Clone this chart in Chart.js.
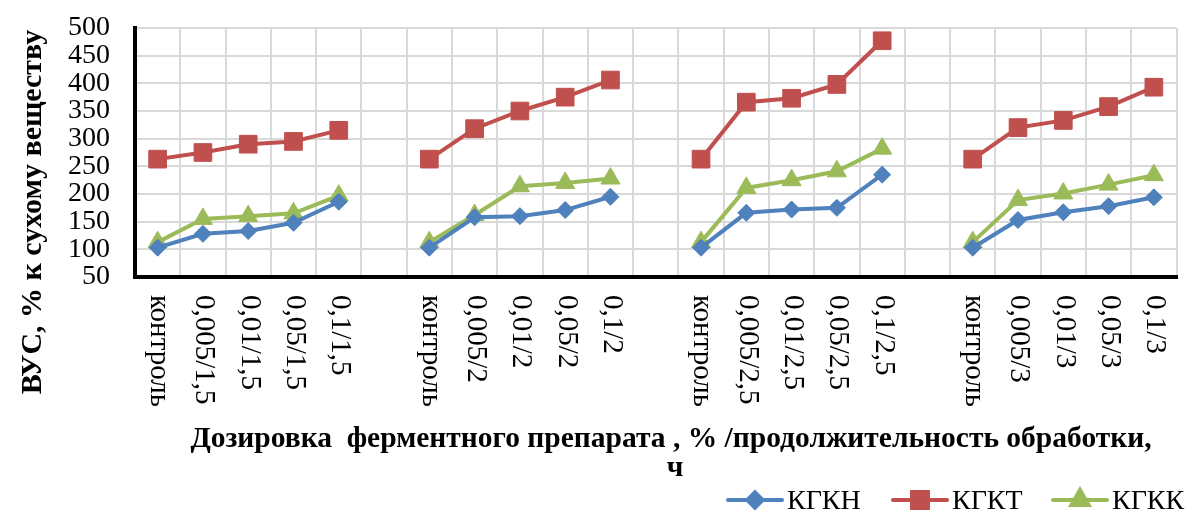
<!DOCTYPE html>
<html>
<head>
<meta charset="utf-8">
<script src="https://cdn.jsdelivr.net/npm/chart.js@4/dist/chart.umd.min.js"></script>
<style>
  html, body { margin: 0; padding: 0; background: #fff; }
  #wrap { width: 1190px; height: 513px; }
</style>
</head>
<body>
<div id="wrap"><canvas id="vusChart" width="1190" height="513"></canvas></div>
<script>
// подписи категорий (пустые - промежутки между группами)
const labels = [
    'контроль', '0,005/1,5', '0,01/1,5', '0,05/1,5', '0,1/1,5', '',
    'контроль', '0,005/2', '0,01/2', '0,05/2', '0,1/2', '',
    'контроль', '0,005/2,5', '0,01/2,5', '0,05/2,5', '0,1/2,5', '',
    'контроль', '0,005/3', '0,01/3', '0,05/3', '0,1/3'
];

const kgkn = [103, 128, 133, 148, 186, null, 103, 158, 160, 171, 195, null, 103, 166, 172, 175, 235, null, 103, 153, 167, 178, 194];
const kgkt = [263, 275, 290, 295, 315, null, 263, 318, 350, 375, 406, null, 263, 366, 373, 398, 477, null, 263, 320, 333, 358, 393];
const kgkk = [113, 155, 160, 165, 197, null, 113, 162, 214, 220, 228, null, 113, 211, 225, 241, 282, null, 113, 189, 201, 217, 234];

const yTicks = [50, 100, 150, 200, 250, 300, 350, 400, 450, 500];

const yTitle = 'ВУС, % к сухому веществу';
const xTitle = ['Дозировка  ферментного препарата , % /продолжительность обработки,', 'ч'];

const FONT = '"Liberation Serif", "Times New Roman", serif';

const series = [
    { label: 'КГКН', data: kgkn, color: '#4F81BD', style: 'rectRot', radius: 8.5 },
    { label: 'КГКТ', data: kgkt, color: '#C0504D', style: 'rect', radius: 12.5 },
    { label: 'КГКК', data: kgkk, color: '#9BBB59', style: 'triangle', radius: 11 }
];

// подписи, заголовки осей и легенда
const textPlugin = {
    id: 'texts',
    afterDraw(chart) {
        const ctx = chart.ctx;
        const x = chart.scales.x;
        ctx.save();
        ctx.fillStyle = '#000';

        // подписи категорий, повернутые на 90°
        ctx.font = '29px ' + FONT;
        ctx.textAlign = 'left';
        ctx.textBaseline = 'middle';
        labels.forEach((lab, i) => {
            if (!lab) return;
            ctx.save();
            ctx.translate(x.getPixelForValue(i) + 1, 295);
            ctx.rotate(Math.PI / 2);
            ctx.fillText(lab, 0, 0);
            ctx.restore();
        });

        // заголовок оси Y
        ctx.font = 'bold 30px ' + FONT;
        ctx.save();
        ctx.translate(33, 212);
        ctx.rotate(-Math.PI / 2);
        ctx.textAlign = 'center';
        ctx.textBaseline = 'middle';
        ctx.fillText(yTitle, 0, 0);
        ctx.restore();

        // заголовок оси X
        ctx.font = 'bold 29.5px ' + FONT;
        ctx.textAlign = 'center';
        ctx.textBaseline = 'alphabetic';
        ctx.fillText(xTitle[0], 671, 447);
        ctx.fillText(xTitle[1], 675, 476);

        // легенда
        const starts = [728, 893, 1053];
        const ly = 500;
        ctx.font = '28px ' + FONT;
        ctx.textAlign = 'left';
        ctx.textBaseline = 'middle';
        series.forEach((s, i) => {
            const x0 = starts[i];
            ctx.strokeStyle = s.color;
            ctx.fillStyle = s.color;
            ctx.lineWidth = 4;
            ctx.lineCap = 'round';
            ctx.beginPath();
            ctx.moveTo(x0, ly);
            ctx.lineTo(x0 + 54, ly);
            ctx.stroke();
            Chart.helpers.drawPoint(ctx, { pointStyle: s.style, radius: s.radius * 0.9, rotation: 0, borderWidth: 1 }, x0 + 27, ly);
            ctx.fillStyle = '#000';
            ctx.fillText(s.label, x0 + 59, ly + 2);
        });
        ctx.restore();
    }
};

new Chart(document.getElementById('vusChart'), {
    type: 'line',
    data: {
        labels: labels,
        datasets: series.map(s => ({
            label: s.label,
            data: s.data,
            borderColor: s.color,
            backgroundColor: s.color,
            borderWidth: 4,
            pointStyle: s.style,
            pointRadius: s.radius,
            pointBorderWidth: 1,
            pointHoverRadius: s.radius,
            spanGaps: false,
            fill: false,
            tension: 0
        }))
    },
    options: {
        responsive: false,
        animation: false,
        events: [],
        layout: { padding: { top: 28, right: 0, left: 0, bottom: 0 } },
        plugins: {
            legend: { display: false },
            tooltip: { enabled: false }
        },
        scales: {
            x: {
                type: 'category',
                offset: true,
                grid: { offset: true, color: '#d9d9d9', lineWidth: 2, drawTicks: false },
                border: { color: '#000', width: 4 },
                ticks: { display: false },
                afterFit: s => { s.height = 513 - 277; }
            },
            y: {
                min: 50,
                max: 500,
                afterBuildTicks: s => { s.ticks = yTicks.map(v => ({ value: v })); },
                grid: { color: '#d9d9d9', lineWidth: 2, drawTicks: false },
                border: { color: '#000', width: 4 },
                ticks: {
                    color: '#000',
                    padding: 25,
                    autoSkip: false,
                    font: { family: FONT, size: 28 }
                },
                afterFit: s => {
                    s.width = 135;
                    s.paddingTop = 0;
                    s.paddingBottom = 0;
                }
            }
        }
    },
    plugins: [textPlugin]
});
</script>
</body>
</html>
